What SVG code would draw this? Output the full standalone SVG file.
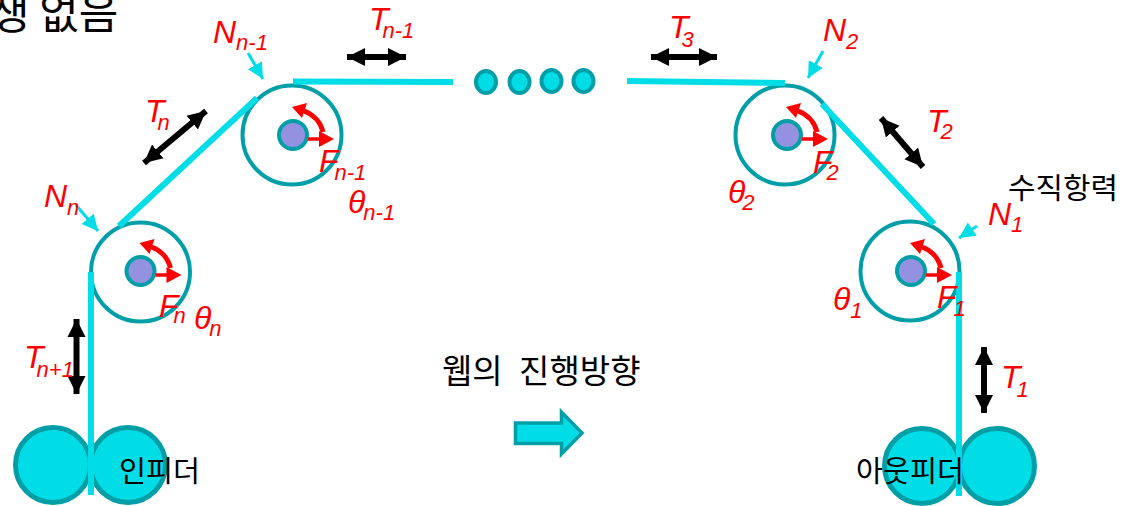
<svg xmlns="http://www.w3.org/2000/svg" xmlns:xlink="http://www.w3.org/1999/xlink" width="1132" height="506" viewBox="0 0 1132 506">
<style>
.web{stroke:#00dde6;stroke-width:6;fill:none}
.wheel{fill:none;stroke:#009fa8;stroke-width:4}
.roll{fill:#00dde6;stroke:#009fa8;stroke-width:5}
.dot{fill:#00dde6;stroke:#009fa8;stroke-width:4}
.ten{stroke:#000;stroke-width:6;fill:none;marker-start:url(#bk);marker-end:url(#bk)}
.nor{stroke:#00dde6;stroke-width:3;fill:none;marker-end:url(#cy)}
.kr{font-family:"Noto Sans CJK KR","Noto Sans",sans-serif;fill:#000}
.m{font-family:"Liberation Sans",Arial,sans-serif;font-style:italic;fill:#f00;font-size:32px}
.s{font-size:22px}
</style>
<defs>
<marker id="bk" markerUnits="userSpaceOnUse" markerWidth="20" markerHeight="20" refX="18" refY="10" orient="auto-start-reverse"><path d="M0 1L18 10L0 19Z" fill="#000"/></marker>
<marker id="cy" markerUnits="userSpaceOnUse" markerWidth="18" markerHeight="18" refX="16" refY="8" orient="auto"><path d="M0 0L16 8L0 16Z" fill="#00dde6"/></marker>
<g id="rotor">
<circle r="14" fill="#9391e0" stroke="#009fa8" stroke-width="4"/>
<path d="M15 4H28" stroke="#f00" stroke-width="3.500" fill="none"/>
<path d="M26 -4L41 4L26 12Z" fill="#f00"/>
<path d="M30 -3A30 30 0 0 0 11 -24" stroke="#f00" stroke-width="5" fill="none"/>
<path d="M-1 -28L14 -32L9 -17Z" fill="#f00"/>
</g>
</defs>

<text class="kr" x="-10" y="29" font-size="43">생 없음</text>

<g id="node-n"><circle class="wheel" cx="140.500" cy="272" r="49.500"/><use xlink:href="#rotor" href="#rotor" x="140.500" y="271"/></g>
<g id="node-n-1"><circle class="wheel" cx="292" cy="135" r="49.500"/><use xlink:href="#rotor" href="#rotor" x="293" y="135"/></g>
<g id="node-2"><circle class="wheel" cx="785" cy="135" r="49.500"/><use xlink:href="#rotor" href="#rotor" x="787" y="135"/></g>
<g id="node-1"><circle class="wheel" cx="910" cy="271" r="49.500"/><use xlink:href="#rotor" href="#rotor" x="911" y="271"/></g>

<g id="infeeder">
<circle class="roll" cx="53" cy="465" r="37.500"/><circle class="roll" cx="128" cy="465" r="37.500"/>
</g>
<g id="outfeeder">
<circle class="roll" cx="922" cy="466" r="37.500"/><circle class="roll" cx="997" cy="466" r="37.500"/>
</g>

<g id="connectors">
<path class="web" d="M91 272V495"/>
<path class="web" d="M119 226L257 98"/>
<path class="web" d="M293 81.500L453 82"/>
<path class="web" d="M627 81L785 83"/>
<path class="web" d="M822 104L934 224"/>
<path class="web" d="M959 272V496"/>
<path class="ten" d="M347 57H406"/>
<path class="ten" d="M651 57H717"/>
<path class="ten" d="M144 163L206 111"/>
<path class="ten" d="M881 118L923 167"/>
<path class="ten" d="M76.500 319V394"/>
<path class="ten" d="M984 347V413"/>
<path class="nor" d="M248 53L263 79"/>
<path class="nor" d="M76 205L98 231"/>
<path class="nor" d="M823 51L808 78"/>
<path class="nor" d="M977 226L959 238"/>
</g>

<g id="ellipsis">
<ellipse class="dot" cx="486" cy="82" rx="10" ry="11"/>
<ellipse class="dot" cx="519.500" cy="82" rx="10" ry="11"/>
<ellipse class="dot" cx="551.500" cy="81" rx="10" ry="11"/>
<ellipse class="dot" cx="583.500" cy="81" rx="10" ry="11"/>
</g>

<g id="direction">
<text class="kr" x="442" y="383" font-size="33" word-spacing="9">웹의 진행방향</text>
<path d="M515.500 423H561.500V412L582 433L561.500 454V443.500H515.500Z" fill="#00dde6" stroke="#009fa8" stroke-width="3.500"/>
</g>
<text class="kr" x="1008" y="199" font-size="29" textLength="110" lengthAdjust="spacingAndGlyphs">수직항력</text>
<text class="kr" x="119" y="482" font-size="29" textLength="81" lengthAdjust="spacingAndGlyphs">인피더</text>
<text class="kr" x="856" y="482" font-size="29" textLength="108" lengthAdjust="spacingAndGlyphs">아웃피더</text>

<g id="labels">
<text class="m" x="213" y="43">N<tspan class="s" dy="7">n-1</tspan></text>
<text class="m" x="369" y="30">T<tspan class="s" dx="-6" dy="8">n-1</tspan></text>
<text class="m" x="145" y="122">T<tspan class="s" dx="-7" dy="8">n</tspan></text>
<text class="m" x="44" y="207">N<tspan class="s" dy="8">n</tspan></text>
<text class="m" x="319" y="172">F<tspan class="s" dx="-4" dy="8">n-1</tspan></text>
<text class="m" x="348" y="213">θ<tspan class="s" dx="-2" dy="7">n-1</tspan></text>
<text class="m" x="159" y="317">F<tspan class="s" dx="-5" dy="6">n</tspan></text>
<text class="m" x="194" y="329">θ<tspan class="s" dx="-2" dy="7">n</tspan></text>
<text class="m" x="24" y="368">T<tspan class="s" dx="-7" dy="9">n+1</tspan></text>
<text class="m" x="669" y="38">T<tspan class="s" dx="-7" dy="9">3</tspan></text>
<text class="m" x="823" y="41">N<tspan class="s" dy="8">2</tspan></text>
<text class="m" x="927" y="132">T<tspan class="s" dx="-6" dy="7">2</tspan></text>
<text class="m" x="813" y="173">F<tspan class="s" dx="-6" dy="7">2</tspan></text>
<text class="m" x="728" y="203">θ<tspan class="s" dx="-3" dy="7">2</tspan></text>
<text class="m" x="988" y="225">N<tspan class="s" dy="7">1</tspan></text>
<text class="m" x="937" y="308">F<tspan class="s" dx="-3" dy="8">1</tspan></text>
<text class="m" x="833" y="310">θ<tspan class="s" dy="8">1</tspan></text>
<text class="m" x="1001" y="388">T<tspan class="s" dx="-4" dy="9">1</tspan></text>
</g>
</svg>
